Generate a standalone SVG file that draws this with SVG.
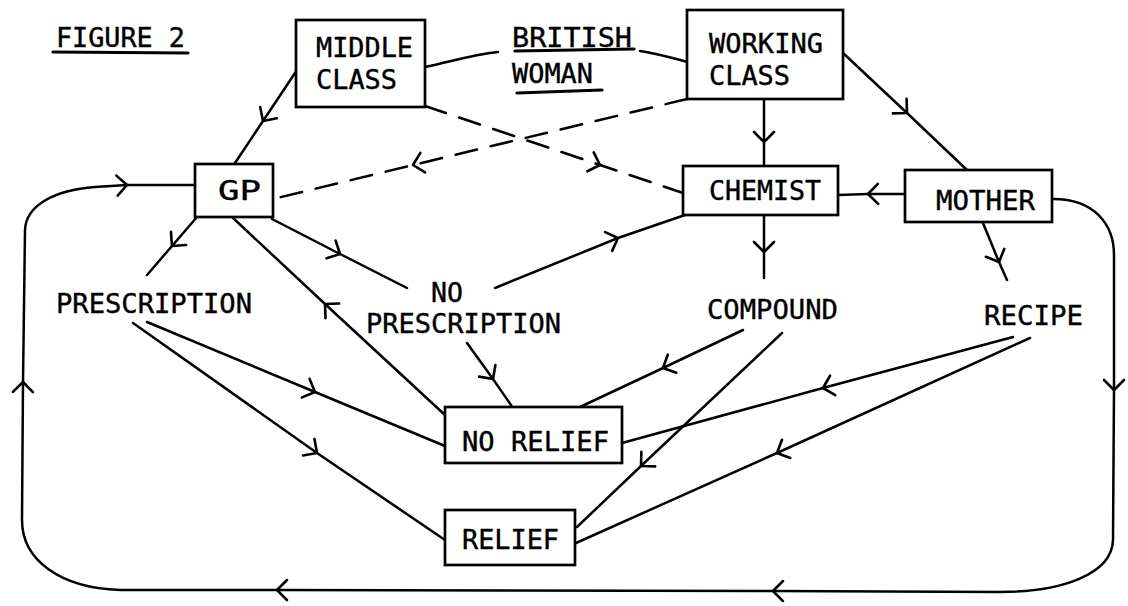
<svg xmlns="http://www.w3.org/2000/svg" width="1128" height="606" viewBox="0 0 1128 606">
<defs>
<style>
.ln{fill:none;stroke:#000;stroke-width:2.5;stroke-linecap:round;stroke-linejoin:round}
.mid{marker-mid:url(#chev)}
.end{marker-end:url(#chev)}
.dash{stroke-dasharray:22 14}
.box{fill:#fff;stroke:#000;stroke-width:2.7}
.ul{fill:none;stroke:#000;stroke-width:3.2;stroke-linecap:round}
text{font-family:"DejaVu Sans Mono","Liberation Mono",monospace;font-size:26px;fill:#000;stroke:#000;stroke-width:0.4}
</style>
<marker id="chev" markerUnits="userSpaceOnUse" markerWidth="34" markerHeight="34" viewBox="-17 -17 34 34" refX="0" refY="0" orient="auto">
<path d="M-10,-10 L0,0 L-10,10" fill="none" stroke="#000" stroke-width="2.6" stroke-linecap="round" stroke-linejoin="round"/>
</marker>
</defs>
<rect width="1128" height="606" fill="#fff"/>

<g id="connectors">
<path class="ln mid" d="M297,70 L263,121 L235,163"/>
<path class="ln" d="M425,67 C450,62 470,55 498,52"/>
<path class="ln" d="M640,51 C660,54 675,59 688,62"/>
<path class="ln dash mid" d="M425,106 L600,165 L683,193"/>
<path class="ln dash mid" d="M687,99 L413,165 L277,198"/>
<path class="ln mid" d="M764,99 L764,142 L764,166"/>
<path class="ln mid" d="M843,53 L907,113 L967,170"/>
<path class="ln mid" d="M905,194 L868,194 L838,195"/>
<path class="ln mid" d="M983,223 L999,262 L1007,280"/>
<path class="ln mid" d="M197,217 L172,246 L147,275"/>
<path class="ln mid" d="M445,415 L325,304 L233,218"/>
<path class="ln mid" d="M272,219 L340,254 L407,288"/>
<path class="ln mid" d="M495,288 L618,238 L685,215"/>
<path class="ln mid" d="M764,215 L764,252 L764,278"/>
<path class="ln mid" d="M743,330 L663,368 L580,407"/>
<path class="ln mid" d="M467,343 L493,379 L513,408"/>
<path class="ln mid" d="M782,333 L641,466 L577,527"/>
<path class="ln mid" d="M147,322 L315,392 L445,446"/>
<path class="ln mid" d="M133,323 L317,453 L445,540"/>
<path class="ln mid" d="M1013,337 L823,388 L622,443"/>
<path class="ln mid" d="M1030,338 L777,453 L576,543"/>
<path class="ln end" d="M1053,199 C1095,199 1114,225 1114,255 L1114,390"/>
<path class="ln end" d="M1114,390 L1113,540 C1112,575 1060,592 1000,592 L773,591"/>
<path class="ln end" d="M773,591 L277,590"/>
<path class="ln end" d="M277,590 L120,590 C60,588 22,560 22,520 L23,382"/>
<path class="ln end" d="M23,382 L25,230 C26,205 55,190 95,187 L127,185"/>
<path class="ln" d="M127,185 L195,185"/>
</g>

<g id="title">
<text x="56" y="47" textLength="129" lengthAdjust="spacingAndGlyphs">FIGURE 2</text>
<path class="ul" d="M53,52 L188,53"/>
</g>
<g id="british-woman">
<text><tspan x="512" y="47" textLength="120" lengthAdjust="spacingAndGlyphs">BRITISH</tspan><tspan x="512" y="83" textLength="81" lengthAdjust="spacingAndGlyphs">WOMAN</tspan></text>
<path class="ul" d="M515,51 L634,49"/>
<path class="ul" d="M517,93 L602,90"/>
</g>
<g id="middle-class">
<rect class="box" x="296" y="20" width="129" height="87"/>
<text><tspan x="316" y="57" textLength="97" lengthAdjust="spacingAndGlyphs">MIDDLE</tspan><tspan x="316" y="89" textLength="81" lengthAdjust="spacingAndGlyphs">CLASS</tspan></text>
</g>
<g id="working-class">
<rect class="box" x="687" y="10" width="156" height="89"/>
<text><tspan x="709" y="53" textLength="114" lengthAdjust="spacingAndGlyphs">WORKING</tspan><tspan x="709" y="85" textLength="81" lengthAdjust="spacingAndGlyphs">CLASS</tspan></text>
</g>
<g id="gp">
<rect class="box" x="195" y="164" width="78" height="53"/>
<text x="218" y="200" textLength="43" lengthAdjust="spacingAndGlyphs">GP</text>
</g>
<g id="chemist">
<rect class="box" x="683" y="166" width="155" height="49"/>
<text x="709" y="200" textLength="112" lengthAdjust="spacingAndGlyphs">CHEMIST</text>
</g>
<g id="mother">
<rect class="box" x="905" y="170" width="147" height="52"/>
<text x="936" y="210" textLength="99" lengthAdjust="spacingAndGlyphs">MOTHER</text>
</g>
<g id="prescription">
<text x="56" y="313" textLength="196" lengthAdjust="spacingAndGlyphs">PRESCRIPTION</text>
</g>
<g id="no-prescription">
<text><tspan x="431" y="302" textLength="32" lengthAdjust="spacingAndGlyphs">NO</tspan><tspan x="366" y="333" textLength="195" lengthAdjust="spacingAndGlyphs">PRESCRIPTION</tspan></text>
</g>
<g id="compound">
<text x="707" y="319" textLength="131" lengthAdjust="spacingAndGlyphs">COMPOUND</text>
</g>
<g id="recipe">
<text x="984" y="325" textLength="99" lengthAdjust="spacingAndGlyphs">RECIPE</text>
</g>
<g id="no-relief">
<rect class="box" x="445" y="407" width="177" height="56"/>
<text x="462" y="451" textLength="147" lengthAdjust="spacingAndGlyphs">NO RELIEF</text>
</g>
<g id="relief">
<rect class="box" x="445" y="510" width="130" height="55"/>
<text x="462" y="549" textLength="97" lengthAdjust="spacingAndGlyphs">RELIEF</text>
</g>
</svg>
